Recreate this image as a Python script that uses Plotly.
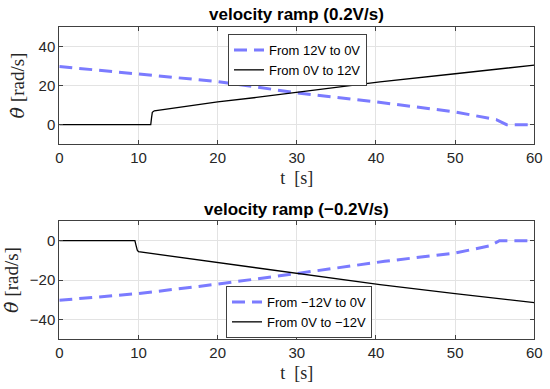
import plotly.graph_objects as go

# ---- data ----
# top panel: velocity ramp (0.2V/s)
t_top_down = [0, 7.7, 10, 20, 24.5, 30, 40, 41.1, 50, 55.2, 56.5, 60]
v_top_down = [29.7, 26.7, 26.0, 22.0, 19.5, 16.2, 11.6, 11.1, 6.5, 2.6, 0.0, 0.0]
t_top_up = [0, 11.55, 11.65, 11.75, 12.0, 20, 24.9, 30, 40.5, 50, 60]
v_top_up = [0, 0, 3.5, 6.3, 7.1, 11.6, 13.9, 16.5, 21.8, 26.0, 30.4]

# bottom panel: velocity ramp (-0.2V/s)
t_bot_down = [0, 7.7, 10, 20, 24.9, 30, 41.1, 50, 54.4, 55.6, 60]
v_bot_down = [-30.3, -27.7, -26.9, -22.1, -19.5, -16.7, -10.5, -6.3, -2.6, 0.0, 0.0]
t_bot_up = [0, 9.55, 9.7, 9.85, 10.0, 24.9, 30, 40.5, 50, 60]
v_bot_up = [0, 0, -2.5, -4.8, -5.6, -13.9, -16.5, -22.4, -26.9, -31.5]

top_names = ["From 12V to 0V", "From 0V to 12V"]
bot_names = ["From \u221212V to 0V", "From 0V to \u221212V"]
titles = ["velocity ramp (0.2V/s)", "velocity ramp (\u22120.2V/s)"]
x_ticks = [0, 10, 20, 30, 40, 50, 60]
y_ticks_top = [0, 20, 40]
y_ticks_bot = [-40, -20, 0]

W, H = 550, 389
BLUE = "#7b7bff"
SANS = "Liberation Sans, Arial, Helvetica, sans-serif"
SERIF = "Liberation Serif, serif"
AX = "#404040"
GRID = "#e3e3e3"

fig = go.Figure()
fig.add_trace(go.Scatter(x=t_top_down, y=v_top_down, mode="lines", name=top_names[0],
                         line=dict(color=BLUE, width=3, dash="13px,7px"),
                         xaxis="x", yaxis="y", legend="legend"))
fig.add_trace(go.Scatter(x=t_top_up, y=v_top_up, mode="lines", name=top_names[1],
                         line=dict(color="black", width=1.3),
                         xaxis="x", yaxis="y", legend="legend"))
fig.add_trace(go.Scatter(x=t_bot_down, y=v_bot_down, mode="lines", name=bot_names[0],
                         line=dict(color=BLUE, width=3, dash="13px,7px"),
                         xaxis="x2", yaxis="y2", legend="legend2"))
fig.add_trace(go.Scatter(x=t_bot_up, y=v_bot_up, mode="lines", name=bot_names[1],
                         line=dict(color="black", width=1.3),
                         xaxis="x2", yaxis="y2", legend="legend2"))

xd = [59.3 / W, 534.3 / W]
yd_top = [1 - 144.3 / H, 1 - 26.7 / H]
yd_bot = [1 - 339 / H, 1 - 221 / H]

axcommon = dict(showline=True, linecolor=AX, linewidth=1, mirror="ticks",
                ticks="inside", ticklen=4, tickcolor=AX, showgrid=True,
                gridcolor=GRID, gridwidth=1, zeroline=False,
                tickfont=dict(family=SANS, size=15, color="#262626"))

ytitle = dict(text="<span style=\"font-family:'DejaVu Serif'\"><i>\u03b8\u0307</i></span> [rad/s]",
              font=dict(family=SERIF, size=19, color="#262626"),
              standoff=8)
xtitle = dict(text="t  [s]", font=dict(family=SERIF, size=18, color="#262626"),
              standoff=6)

legfont = dict(family=SANS, size=13, color="black")

fig.update_layout(
    width=W, height=H, margin=dict(l=0, r=0, t=0, b=0, autoexpand=False),
    paper_bgcolor="white", plot_bgcolor="white", showlegend=True,
    xaxis=dict(domain=xd, anchor="y", range=[0, 60], tickvals=x_ticks, title=xtitle, **axcommon),
    yaxis=dict(domain=yd_top, anchor="x", range=[-10, 50], tickvals=y_ticks_top, title=ytitle, **axcommon),
    xaxis2=dict(domain=xd, anchor="y2", range=[0, 60], tickvals=x_ticks, title=xtitle, **axcommon),
    yaxis2=dict(domain=yd_bot, anchor="x2", range=[-50, 10], tickvals=y_ticks_bot, title=ytitle, **axcommon),
    legend=dict(x=228 / W, y=1 - 34 / H, xanchor="left", yanchor="top",
                bgcolor="white", bordercolor=AX, borderwidth=1, font=legfont,
                itemwidth=30, tracegroupgap=0),
    legend2=dict(x=226 / W, y=1 - 286 / H, xanchor="left", yanchor="top",
                 bgcolor="white", bordercolor=AX, borderwidth=1, font=legfont,
                 itemwidth=30, tracegroupgap=0),
    annotations=[
        dict(text="<b>%s</b>" % titles[0], x=0.5 * (xd[0] + xd[1]), y=1 - 14 / H,
             xref="paper", yref="paper", showarrow=False, xanchor="center", yanchor="middle",
             font=dict(family=SANS, size=17, color="black")),
        dict(text="<b>%s</b>" % titles[1], x=0.5 * (xd[0] + xd[1]), y=1 - 209 / H,
             xref="paper", yref="paper", showarrow=False, xanchor="center", yanchor="middle",
             font=dict(family=SANS, size=17, color="black")),
    ],
)

fig.write_html("out.html", config={"displayModeBar": False},
               post_script="document.body.style.margin='0';")
